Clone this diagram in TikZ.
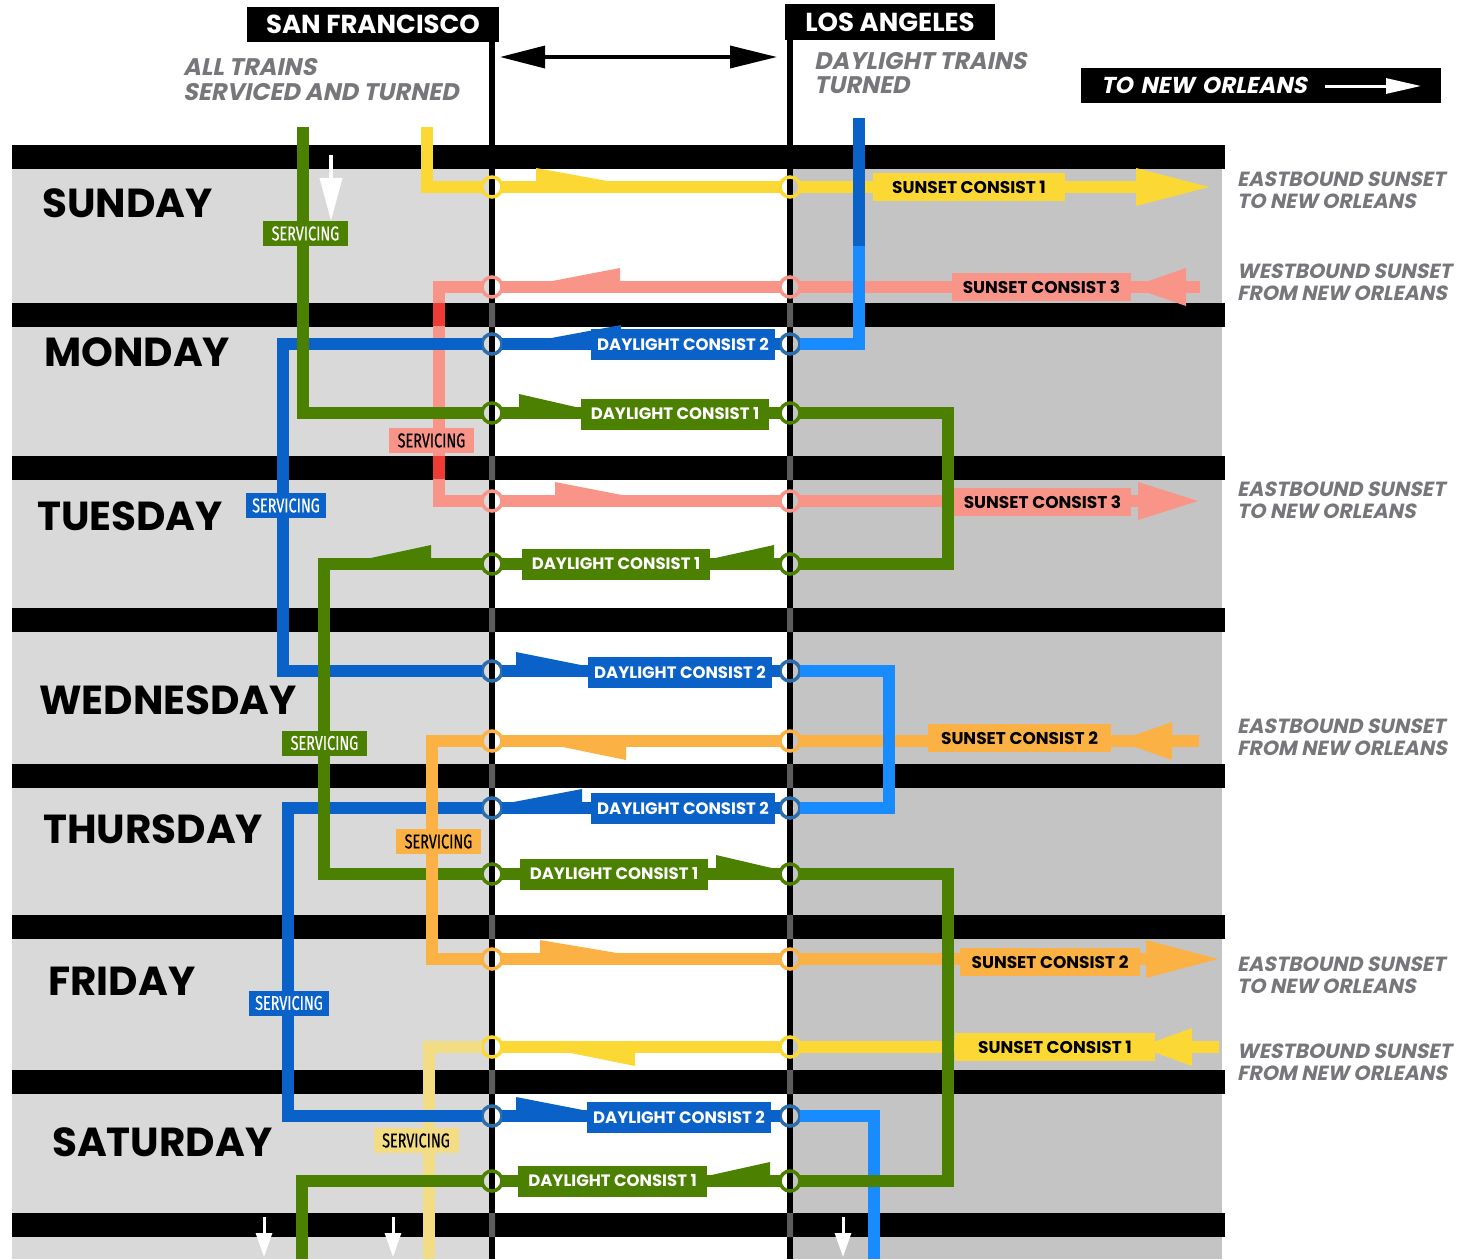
\documentclass[tikz,border=0pt]{standalone}
\usepackage{fontspec}
\setmainfont{Poppins}
\newfontfamily\obl[FakeSlant=0.2]{Poppins}
\newfontfamily\cnd[FakeStretch=0.72, FakeBold=0.6]{Fira Sans}
\usetikzlibrary{arrows.meta}

\definecolor{dlgreen}{HTML}{4B8000}
\definecolor{dlblue}{HTML}{0A62C8}
\definecolor{dlblue2}{HTML}{188CFF}
\definecolor{ringblue}{HTML}{2D6EAA}
\definecolor{salmon}{HTML}{F99588}
\definecolor{salred}{HTML}{EF3B36}
\definecolor{sunyel}{HTML}{FCD835}
\definecolor{paleyel}{HTML}{F2DC84}
\definecolor{sunorange}{HTML}{FBB144}
\definecolor{leftgray}{HTML}{D9D9D9}
\definecolor{rightgray}{HTML}{C4C4C4}
\definecolor{notegray}{HTML}{77777B}
\definecolor{bargray}{HTML}{5C5C5C}

\newcommand\flagup[4]{\fill[#1] (#2,#3-5) -- (#2,#3-19) -- (#4,#3-5) -- cycle;}
\newcommand\flagdn[4]{\fill[#1] (#2,#3+5) -- (#2,#3+19) -- (#4,#3+5) -- cycle;}
\newcommand\bighead[4]{\fill[#1] (#2,#3-19) -- (#4,#3) -- (#2,#3+19) -- cycle;}

\begin{document}
\begin{tikzpicture}[x=1pt, y=-1pt,
  track/.style={line width=12pt},
  ring/.style={circle, draw=#1, line width=3.5pt, minimum size=20pt, inner sep=0pt, outer sep=0pt},
  city/.style={fill=black, text=white, inner sep=0pt, font=\bfseries\fontsize{26}{26}\selectfont},
  note/.style={anchor=north west, inner sep=0pt, align=left, text=notegray, font=\obl\bfseries\fontsize{20.5}{21.5}\selectfont},
  dayname/.style={anchor=west, inner sep=0pt, font=\bfseries\fontsize{40.5}{40.5}\selectfont},
  dlbox/.style={fill=#1, text=white, minimum height=31pt, inner sep=0pt, font=\bfseries\fontsize{16.5}{16.5}\selectfont},
  ssbox/.style={fill=#1, text=black, minimum height=28pt, inner sep=0pt, font=\bfseries\fontsize{17}{17}\selectfont},
  svc/.style={fill=#1, minimum width=85pt, minimum height=25pt, inner sep=0pt, font=\cnd\fontsize{20}{20}\selectfont}]
  \useasboundingbox (0,0) rectangle (1479,1259);

  \fill[leftgray] (12,145) rectangle (492,1259);
  \fill[rightgray] (790,145) rectangle (1222,1259);
  \foreach \t in {145,303,456,608,764,915,1070,1213}
    \fill (12,\t) rectangle (1225,\t+24);

  \node[city, minimum width=252pt, minimum height=35pt] (sf) at (373,24.5) {SAN FRANCISCO};
  \node[city, minimum width=210pt, minimum height=36pt] (la) at (890,22) {LOS ANGELES};
  \coordinate (sfend) at (492,1259);
  \coordinate (laend) at (790,1259);
  \draw[line width=6.5pt] (sfend |- sf.south) -- (sfend);
  \draw[line width=6.5pt] (laend |- la.south) -- (laend);
  \foreach \t in {303,456,608,764,915,1070,1213}
    \fill[bargray] (489,\t) rectangle (495,\t+24) (787,\t) rectangle (793,\t+24);

  \coordinate (spanl) at (500,57);
  \coordinate (spanr) at (777,57);
  \draw[line width=3.5pt, {Triangle[length=45pt,width=22pt]}-{Triangle[length=47pt,width=22pt]}] (spanl) -- (spanr);

  \node[note, font=\obl\bfseries\fontsize{24}{25.5}\selectfont] (sfnote) at (183,58) {ALL TRAINS\\SERVICED AND TURNED};
  \node[note, font=\obl\bfseries\fontsize{24}{24.5}\selectfont] (lanote) at (814,52) {DAYLIGHT TRAINS\\TURNED};

  \node[fill=black, text=white, minimum width=360pt, minimum height=35pt, text width=320pt, inner sep=0pt,
    font=\obl\bfseries\fontsize{23}{23}\selectfont] (tono) at (1261,85.5) {TO NEW ORLEANS};
  \coordinate (tonoa) at (1325,86);
  \coordinate (tonob) at (1421,86);
  \draw[white, line width=3pt, -{Triangle[length=35pt,width=15pt]}] (tonoa) -- (tonob);

  \foreach \y/\a/\b in {172/EASTBOUND SUNSET/TO NEW ORLEANS, 264/WESTBOUND SUNSET/FROM NEW ORLEANS,
      482/EASTBOUND SUNSET/TO NEW ORLEANS, 719/EASTBOUND SUNSET/FROM NEW ORLEANS,
      957/EASTBOUND SUNSET/TO NEW ORLEANS, 1044/WESTBOUND SUNSET/FROM NEW ORLEANS}
    \node[note] (dir\y) at (1237,\y) {\a\\\b};

  \foreach \d/\x/\y in {SUNDAY/42/203.5, MONDAY/44/352, TUESDAY/37/516, WEDNESDAY/39/700,
      THURSDAY/43/829, FRIDAY/48/981, SATURDAY/52/1142}
    \node[dayname] (\d) at (\x,\y) {\d};

  \foreach \n/\y/\c in {1/187/sunyel, 2/287/salmon, 3/344/ringblue, 4/413/dlgreen, 5/501/salmon,
      6/564/dlgreen, 7/671/ringblue, 8/741/sunorange, 9/808/ringblue, 10/874/dlgreen,
      11/959/sunorange, 12/1047/sunyel, 13/1116/ringblue, 14/1181/dlgreen}
  {
    \node[ring=\c] (s\n) at (492,\y) {};
    \node[ring=\c] (l\n) at (790,\y) {};
  }

  \coordinate (ytop) at (427,127);
  \coordinate (yhead) at (1140,187);
  \coordinate (ytail) at (1219,1047);
  \coordinate (pybot) at (429,1259);
  \coordinate (stail) at (1200,287);
  \coordinate (sc) at (439,501);
  \coordinate (shead) at (1140,501);
  \coordinate (otail) at (1199,741);
  \coordinate (oc1) at (432,741);
  \coordinate (oc2) at (432,959);
  \coordinate (ohead) at (1150,959);
  \coordinate (btop) at (859,118);
  \coordinate (bmid) at (859,246);
  \coordinate (bc1) at (283,671);
  \coordinate (bc2) at (889,808);
  \coordinate (bc3) at (288,1116);
  \coordinate (bbot) at (874,1259);
  \coordinate (gtop) at (303,127);
  \coordinate (gc1) at (948,564);
  \coordinate (gc2) at (324,874);
  \coordinate (gc3) at (948,1181);
  \coordinate (gbot) at (302,1259);

  \draw[track, salmon] (stail) -- (l2) (l2) -- (s2) (s2) -| (sc) -- (s5) (s5) -- (l5) (l5) -- (shead);
  \foreach \t in {303,456}
    \fill[salred] (433,\t) rectangle (445,\t+23);
  \draw[track, sunyel] (ytop) |- (s1) (s1) -- (l1) (l1) -- (yhead);
  \draw[track, sunyel] (ytail) -- (l12) (l12) -- (s12);
  \draw[track, paleyel] (s12) -| (pybot);
  \draw[track, sunorange] (otail) -- (l8) (l8) -- (s8) (s8) -- (oc1) (oc2) -- (s11) (s11) -- (l11) (l11) -- (ohead);

  \draw[track, dlblue] (btop) -- (bmid);
  \draw[track, dlblue2] (bmid) |- (l3);
  \draw[track, dlblue] (l3) -- (s3) (s3) -| (bc1) -- (s7) (s7) -- (l7);
  \draw[track, dlblue2] (l7) -| (bc2) -- (l9);
  \draw[track, dlblue] (l9) -- (s9) (s9) -| (bc3) -- (s13) (s13) -- (l13);
  \draw[track, dlblue2] (l13) -| (bbot);

  \draw[track, dlgreen] (gtop) |- (s4) (s4) -- (l4) (l4) -| (gc1) -- (l6) (l6) -- (s6) (s6) -| (gc2) -- (s10)
    (s10) -- (l10) (l10) -| (gc3) -- (l14) (l14) -- (s14) (s14) -| (gbot);

  \draw[track, sunorange, line cap=rect] (oc1) -- (oc2);

  \flagup{sunyel}{536}{187}{613}
  \flagup{salmon}{620}{287}{547}
  \flagup{dlblue}{621}{344}{546}
  \flagup{dlgreen}{519}{413}{580}
  \flagup{salmon}{555}{501}{627}
  \flagup{dlgreen}{774}{564}{711}
  \flagup{dlgreen}{431}{564}{366}
  \flagup{dlblue}{516}{671}{586}
  \flagdn{sunorange}{626}{741}{558}
  \flagup{dlblue}{582}{808}{508}
  \flagup{dlgreen}{716}{874}{776}
  \flagup{sunorange}{540}{959}{623}
  \flagdn{sunyel}{635}{1047}{566}
  \flagup{dlblue}{516}{1116}{588}
  \flagup{dlgreen}{770}{1181}{707}

  \bighead{sunyel}{1136}{187}{1209}
  \bighead{salmon}{1186}{287}{1131}
  \bighead{salmon}{1138}{501}{1198}
  \bighead{sunorange}{1172}{741}{1118}
  \bighead{sunorange}{1146}{959}{1218}
  \bighead{sunyel}{1192}{1047}{1140}

  \node[ssbox=sunyel, minimum width=192pt] (sc1a) at (969,187) {SUNSET CONSIST 1};
  \node[ssbox=salmon, minimum width=179pt] (sc3a) at (1041.5,287) {SUNSET CONSIST 3};
  \node[dlbox=dlblue, minimum width=184pt] (dc2a) at (683,344) {DAYLIGHT CONSIST 2};
  \node[dlbox=dlgreen, minimum width=188pt] (dc1a) at (675,414) {DAYLIGHT CONSIST 1};
  \node[ssbox=salmon, minimum width=177pt] (sc3b) at (1042.5,502) {SUNSET CONSIST 3};
  \node[dlbox=dlgreen, minimum width=188pt] (dc1b) at (616,564) {DAYLIGHT CONSIST 1};
  \node[dlbox=dlblue, minimum width=184pt] (dc2b) at (680,672) {DAYLIGHT CONSIST 2};
  \node[ssbox=sunorange, minimum width=183pt] (sc2a) at (1019.5,738) {SUNSET CONSIST 2};
  \node[dlbox=dlblue, minimum width=184pt] (dc2c) at (683,808) {DAYLIGHT CONSIST 2};
  \node[dlbox=dlgreen, minimum width=188pt] (dc1c) at (614,874) {DAYLIGHT CONSIST 1};
  \node[ssbox=sunorange, minimum width=180pt] (sc2b) at (1050,962) {SUNSET CONSIST 2};
  \node[ssbox=sunyel, minimum width=200pt] (sc1b) at (1055,1047) {SUNSET CONSIST 1};
  \node[dlbox=dlblue, minimum width=184pt] (dc2d) at (679,1117) {DAYLIGHT CONSIST 2};
  \node[dlbox=dlgreen, minimum width=189pt] (dc1d) at (612.5,1181) {DAYLIGHT CONSIST 1};

  \node[svc=dlgreen, text=white] (svc1) at (305.5,233.5) {SERVICING};
  \node[svc=salmon] (svc2) at (431.5,440.5) {SERVICING};
  \node[svc=dlblue, text=white, minimum width=80pt] (svc3) at (286,505.5) {SERVICING};
  \node[svc=dlgreen, text=white] (svc4) at (324.5,743) {SERVICING};
  \node[svc=sunorange] (svc5) at (438.5,841.5) {SERVICING};
  \node[svc=dlblue, text=white, minimum width=80pt] (svc6) at (289,1003) {SERVICING};
  \node[svc=paleyel] (svc7) at (416,1140.5) {SERVICING};

  \coordinate (sunarra) at (331,155);
  \draw[white, line width=4pt, -{Triangle[length=43pt,width=22pt]}] (sunarra) -- (svc1.north -| sunarra);
  \foreach \x in {264,393,843}
  {
    \coordinate (up\x) at (\x,1217);
    \coordinate (dn\x) at (\x,1257);
    \draw[white, line width=3pt, -{Triangle[length=24pt,width=16pt]}] (up\x) -- (dn\x);
  }
\end{tikzpicture}
\end{document}
